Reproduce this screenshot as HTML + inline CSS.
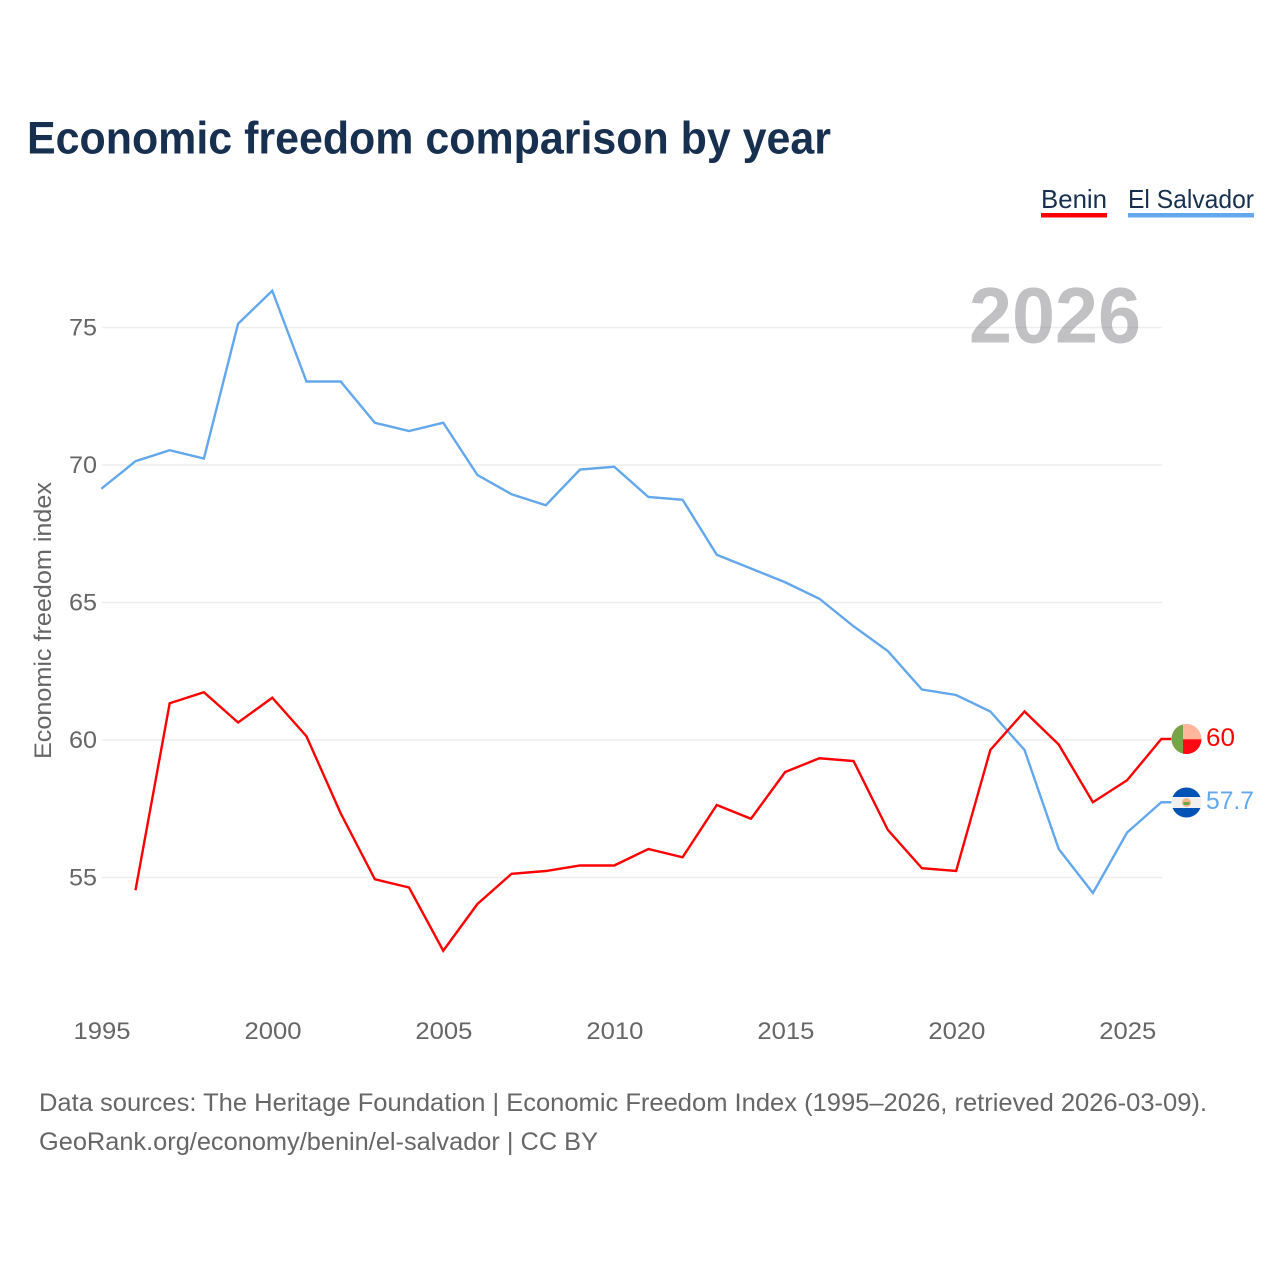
<!DOCTYPE html>
<html lang="en">
<head>
<meta charset="utf-8">
<title>Economic freedom comparison by year</title>
<style>
html,body{margin:0;padding:0;background:#fff;width:1280px;height:1280px;overflow:hidden}
svg{display:block}
text{font-family:"Liberation Sans",sans-serif}
.tick{font-size:24px;fill:#666}
.src{font-size:25px;fill:#666}
.leg{font-size:26px;fill:#18304f}
</style>
</head>
<body>
<svg id="chart" width="1280" height="1280" viewBox="0 0 1280 1280" xmlns="http://www.w3.org/2000/svg">
  <text x="27" y="153.5" font-size="45" font-weight="700" fill="#18304f" textLength="804" lengthAdjust="spacingAndGlyphs">Economic freedom comparison by year</text>

  <g>
    <g>
      <text class="leg" x="1041" y="208" textLength="66" lengthAdjust="spacingAndGlyphs">Benin</text>
      <rect x="1041" y="213" width="66" height="4.5" fill="#ff0000"/>
    </g>
    <g>
      <text class="leg" x="1128" y="208" textLength="126" lengthAdjust="spacingAndGlyphs">El Salvador</text>
      <rect x="1128" y="213" width="126" height="4.5" fill="#63a7ec"/>
    </g>
  </g>

  <g id="grid"></g>
  <text x="969" y="342.5" font-size="79" font-weight="700" fill="#6b6b72" fill-opacity="0.42" textLength="172" lengthAdjust="spacingAndGlyphs">2026</text>
  <g id="yticks"></g>
  <g id="xticks"></g>
  <text transform="translate(51,759) rotate(-90)" font-size="24" fill="#666" textLength="277" lengthAdjust="spacingAndGlyphs">Economic freedom index</text>
  <g id="series"></g>

  <g id="flag-benin">
    <clipPath id="clip-benin"><circle cx="1186.5" cy="739" r="15"/></clipPath>
    <g clip-path="url(#clip-benin)">
      <rect x="1171" y="724" width="31" height="31" fill="#ffb69b"/>
      <rect x="1183" y="739.3" width="19" height="16" fill="#ff0a14"/>
      <rect x="1171" y="724" width="12" height="31" fill="#76a548"/>
    </g>
  </g>
  <g id="flag-el-salvador">
    <clipPath id="clip-sv"><circle cx="1186.5" cy="802.5" r="15"/></clipPath>
    <g clip-path="url(#clip-sv)">
      <rect x="1171" y="787" width="31" height="31" fill="#f0f0f0"/>
      <rect x="1171" y="787" width="31" height="10" fill="#0052b4"/>
      <rect x="1171" y="808" width="31" height="10" fill="#0052b4"/>
      <circle cx="1186.5" cy="802.5" r="4.5" fill="#f2b58c"/>
      <rect x="1183.5" y="802" width="6" height="3" fill="#6da544"/>
    </g>
  </g>
  <text x="1206" y="746" font-size="25" fill="#ff0000" textLength="29" lengthAdjust="spacingAndGlyphs">60</text>
  <text x="1206" y="809" font-size="25" fill="#63a7ec" textLength="48" lengthAdjust="spacingAndGlyphs">57.7</text>

  <g>
    <text class="src" x="39" y="1111" textLength="1168" lengthAdjust="spacingAndGlyphs">Data sources: The Heritage Foundation | Economic Freedom Index (1995–2026, retrieved 2026-03-09).</text>
    <text class="src" x="39" y="1150" textLength="559" lengthAdjust="spacingAndGlyphs">GeoRank.org/economy/benin/el-salvador | CC BY</text>
  </g>
</svg>
<script>
const firstYear = 1995;
const lastYear = 2026;
const xTickLabels = [1995, 2000, 2005, 2010, 2015, 2020, 2025];
const yTickLabels = [55, 60, 65, 70, 75];
const beninValues = [null, 54.5, 61.3, 61.7, 60.6, 61.5, 60.1, 57.3, 54.9, 54.6, 52.3, 54.0, 55.1, 55.2, 55.4, 55.4, 56.0, 55.7, 57.6, 57.1, 58.8, 59.3, 59.2, 56.7, 55.3, 55.2, 59.6, 61.0, 59.8, 57.7, 58.5, 60.0];
const elSalvadorValues = [69.1, 70.1, 70.5, 70.2, 75.1, 76.3, 73.0, 73.0, 71.5, 71.2, 71.5, 69.6, 68.9, 68.5, 69.8, 69.9, 68.8, 68.7, 66.7, 66.2, 65.7, 65.1, 64.1, 63.2, 61.8, 61.6, 61.0, 59.6, 56.0, 54.4, 56.6, 57.7];

const NS = 'http://www.w3.org/2000/svg';
const xLeft = 102, xRight = 1162;
function xScale(year) { return xLeft + (year - firstYear) * (xRight - xLeft) / (lastYear - firstYear); }
function yScale(v) { return 740 - (v - 60) * 27.5; }
function make(tag, attrs, parent) {
  const el = document.createElementNS(NS, tag);
  for (const k in attrs) el.setAttribute(k, attrs[k]);
  parent.appendChild(el);
  return el;
}

const gridG = document.getElementById('grid');
const yG = document.getElementById('yticks');
const xG = document.getElementById('xticks');
const seriesG = document.getElementById('series');
seriesG.setAttribute('transform', 'translate(-0.7,-1)');

yTickLabels.forEach(function (v) {
  const line = make('line', { x1: xLeft, x2: xRight, y1: yScale(v), y2: yScale(v), stroke: '#eeeeee', 'stroke-width': 1.5 }, gridG);
  
  
  const t = make('text', { class: 'tick', x: 97, y: yScale(v) + 8, 'text-anchor': 'end', textLength: 28, lengthAdjust: 'spacingAndGlyphs' }, yG);
  
  
  t.textContent = v;
});

xTickLabels.forEach(function (y) {
  const t = make('text', { class: 'tick', x: xScale(y), y: 1039, 'text-anchor': 'middle', textLength: 57, lengthAdjust: 'spacingAndGlyphs' }, xG);
  
  
  t.textContent = y;
});

function drawSeries(values, color) {
  let d = '';
  let lastV = null;
  values.forEach(function (v, i) {
    if (v === null) return;
    d += (d ? 'L' : 'M') + xScale(firstYear + i).toFixed(2) + ' ' + yScale(v).toFixed(2);
    lastV = v;
  });
  d += 'L' + (xRight + 10) + ' ' + yScale(lastV).toFixed(2);
  return make('path', { d: d, fill: 'none', stroke: color, 'stroke-width': 2.4, 'stroke-linejoin': 'miter' }, seriesG);
}

const elSalvadorLine = drawSeries(elSalvadorValues, '#63a7ec');


const beninLine = drawSeries(beninValues, '#ff0000');


</script>
</body>
</html>
